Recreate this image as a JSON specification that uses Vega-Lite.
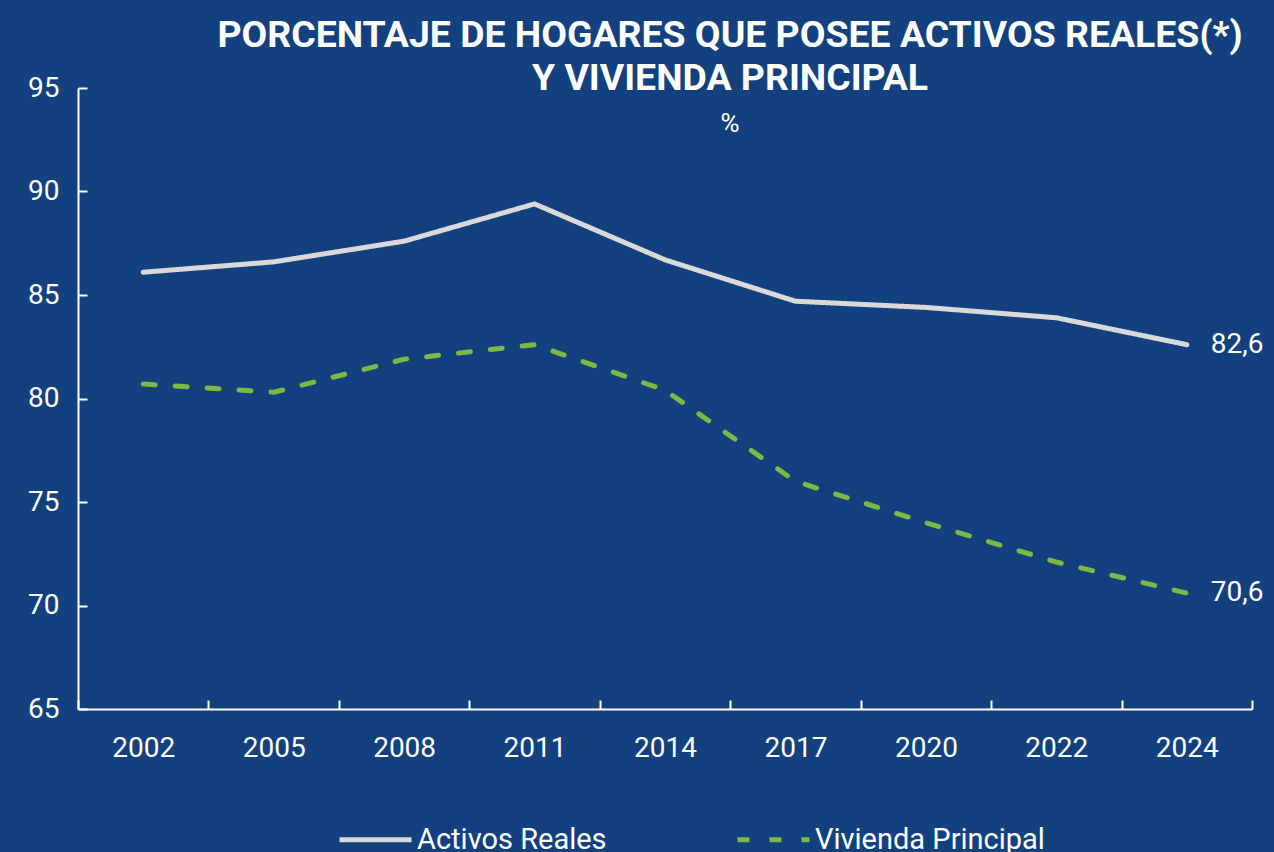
{
  "$schema": "https://vega.github.io/schema/vega-lite/v6.json",
  "width": 1174,
  "height": 621,
  "autosize": {"type": "none"},
  "padding": {"left": 78, "top": 88, "right": 22, "bottom": 143},
  "background": "#13417F",
  "config": {
    "view": {"stroke": null},
    "font": "Roboto",
    "locale": {"number": {"decimal": ",", "thousands": ".", "grouping": [3], "currency": ["", " €"]}}
  },
  "title": {
    "text": ["PORCENTAJE DE HOGARES QUE POSEE ACTIVOS REALES(*)", "Y VIVIENDA PRINCIPAL"],
    "subtitle": "%",
    "anchor": "middle",
    "dx": 65,
    "offset": -63,
    "font": "Roboto",
    "fontWeight": "bold",
    "fontSize": 37.4,
    "lineHeight": 43,
    "color": "white",
    "subtitleFont": "Roboto",
    "subtitleFontSize": 26,
    "subtitleColor": "white",
    "subtitlePadding": 14
  },
  "data": {
    "values": [
      {"anio": "2002", "serie": "Activos Reales", "valor": 86.1},
      {"anio": "2005", "serie": "Activos Reales", "valor": 86.6},
      {"anio": "2008", "serie": "Activos Reales", "valor": 87.6},
      {"anio": "2011", "serie": "Activos Reales", "valor": 89.4},
      {"anio": "2014", "serie": "Activos Reales", "valor": 86.7},
      {"anio": "2017", "serie": "Activos Reales", "valor": 84.7},
      {"anio": "2020", "serie": "Activos Reales", "valor": 84.4},
      {"anio": "2022", "serie": "Activos Reales", "valor": 83.9},
      {"anio": "2024", "serie": "Activos Reales", "valor": 82.6},
      {"anio": "2002", "serie": "Vivienda Principal", "valor": 80.7},
      {"anio": "2005", "serie": "Vivienda Principal", "valor": 80.3},
      {"anio": "2008", "serie": "Vivienda Principal", "valor": 81.9},
      {"anio": "2011", "serie": "Vivienda Principal", "valor": 82.6},
      {"anio": "2014", "serie": "Vivienda Principal", "valor": 80.4},
      {"anio": "2017", "serie": "Vivienda Principal", "valor": 76.0},
      {"anio": "2020", "serie": "Vivienda Principal", "valor": 74.0},
      {"anio": "2022", "serie": "Vivienda Principal", "valor": 72.1},
      {"anio": "2024", "serie": "Vivienda Principal", "valor": 70.6}
    ]
  },
  "layer": [
    {
      "mark": {"type": "line", "strokeWidth": 5, "strokeCap": "round", "strokeJoin": "round"},
      "encoding": {
        "x": {
          "field": "anio", "type": "ordinal",
          "scale": {"type": "band", "paddingInner": 0, "paddingOuter": 0},
          "axis": {
            "title": null, "labelAngle": 0, "labelFontSize": 28, "labelColor": "white", "labelFont": "Roboto",
            "labelPadding": 34, "tickBand": "extent", "tickSize": -9, "tickWidth": 2, "tickColor": "white",
            "domainColor": "white", "domainWidth": 2, "grid": false
          }
        },
        "y": {
          "field": "valor", "type": "quantitative",
          "scale": {"domain": [65, 95], "nice": false, "zero": false},
          "axis": {
            "title": null, "values": [65, 70, 75, 80, 85, 90, 95], "format": "d", "labelFontSize": 28, "labelColor": "white",
            "labelFont": "Roboto", "labelPadding": 28, "tickSize": -9, "tickWidth": 2, "tickColor": "white",
            "domainColor": "white", "domainWidth": 2, "grid": false
          }
        },
        "color": {
          "field": "serie", "type": "nominal",
          "scale": {"domain": ["Activos Reales", "Vivienda Principal"], "range": ["#D9D9D9", "#7DB843"]},
          "legend": {
            "title": null, "orient": "none", "legendX": 259, "legendY": 713, "direction": "horizontal",
            "symbolType": "stroke", "symbolSize": 5184, "symbolStrokeWidth": 5, "labelFontSize": 29,
            "labelColor": "white", "labelFont": "Roboto", "labelLimit": 500, "columnPadding": 120, "labelOffset": 3
          }
        },
        "strokeDash": {
          "field": "serie", "type": "nominal",
          "scale": {"domain": ["Activos Reales", "Vivienda Principal"], "range": [[1, 0], [12, 20]]},
          "legend": {
            "title": null, "orient": "none", "legendX": 259, "legendY": 713, "direction": "horizontal",
            "symbolType": "stroke", "symbolSize": 5184, "symbolStrokeWidth": 5, "labelFontSize": 29,
            "labelColor": "white", "labelFont": "Roboto", "labelLimit": 500, "columnPadding": 120, "labelOffset": 3
          }
        }
      }
    },
    {
      "transform": [{"filter": "datum.anio === '2024'"}],
      "mark": {"type": "text", "align": "left", "baseline": "middle", "dx": 24, "fontSize": 28, "color": "white", "font": "Roboto"},
      "encoding": {
        "x": {"field": "anio", "type": "ordinal"},
        "y": {"field": "valor", "type": "quantitative"},
        "text": {"field": "valor", "type": "quantitative", "format": ".1f"}
      }
    }
  ]
}
